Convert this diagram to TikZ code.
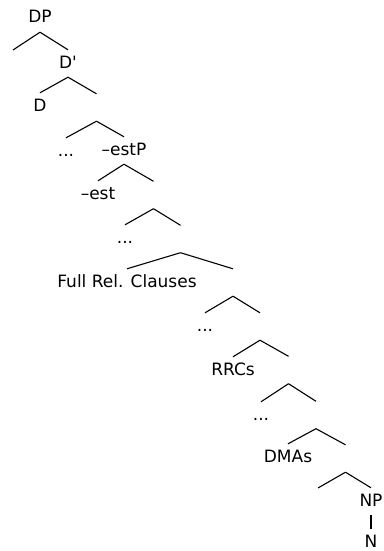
\documentclass[tikz,border=0pt]{standalone}
\usepackage{fontspec}
\setmainfont{DejaVu Sans}
\usepackage{tikz}

\begin{document}
\begin{tikzpicture}[
  x=1pt, y=-1pt,
  cat/.style={font=\fontsize{17}{20}\selectfont, anchor=base, text height=12pt, text depth=3pt, inner xsep=1pt, inner ysep=6pt},
  gap/.style={inner sep=0pt, minimum width=0pt, minimum height=27pt},
  every edge/.style={draw, line width=1.1pt}
]
  \useasboundingbox (0,0) rectangle (383,551);

  \node[cat] (dp)    at (40,23)  {DP};
  \coordinate (leaf0) at (13,50);
  \node[cat] (dbar)  at (68,68)  {D\textquotesingle};
  \node[cat] (d)     at (40,111) {D};
  \node[gap] (e1)    at (96.5,107.5) {};
  \node[cat] (dots1) at (66,156) {...};
  \node[cat] (estp)  at (124,155) {–estP};
  \node[cat] (est)   at (98,199) {–est};
  \node[gap] (e2)    at (153.5,195) {};
  \node[cat] (dots2) at (125,243) {...};
  \node[gap] (e3)    at (180.5,239) {};
  \node[cat] (frc)   at (127,287) {Full Rel. Clauses};
  \node[gap] (e4)    at (233,282.5) {};
  \node[cat] (dots3) at (205,331) {...};
  \node[gap] (e5)    at (260,326.5) {};
  \node[cat] (rrc)   at (233,375) {RRCs};
  \node[gap] (e6)    at (288.5,370) {};
  \node[cat] (dots4) at (261,420) {...};
  \node[gap] (e7)    at (316,415) {};
  \node[cat] (dma)   at (288,462) {DMAs};
  \node[gap] (e8)    at (345.5,458.5) {};
  \coordinate (leaf1) at (318,488);
  \node[cat] (np)    at (371,506) {NP};
  \node[cat] (n)     at (371,547) {N};

  \path (dp.south) edge (leaf0) edge (dbar.north);
  \path (dbar.south) edge (d.north) edge (e1.north);
  \path (e1.south) edge (dots1.north) edge (estp.north);
  \path (estp.south) edge (est.north) edge (e2.north);
  \path (e2.south) edge (dots2.north) edge (e3.north);
  \path (e3.south) edge (frc.north) edge (e4.north);
  \path (e4.south) edge (dots3.north) edge (e5.north);
  \path (e5.south) edge (rrc.north) edge (e6.north);
  \path (e6.south) edge (dots4.north) edge (e7.north);
  \path (e7.south) edge (dma.north) edge (e8.north);
  \path (e8.south) edge (leaf1) edge (np.north);
  \path (np.south) edge (n.north);
\end{tikzpicture}
\end{document}
